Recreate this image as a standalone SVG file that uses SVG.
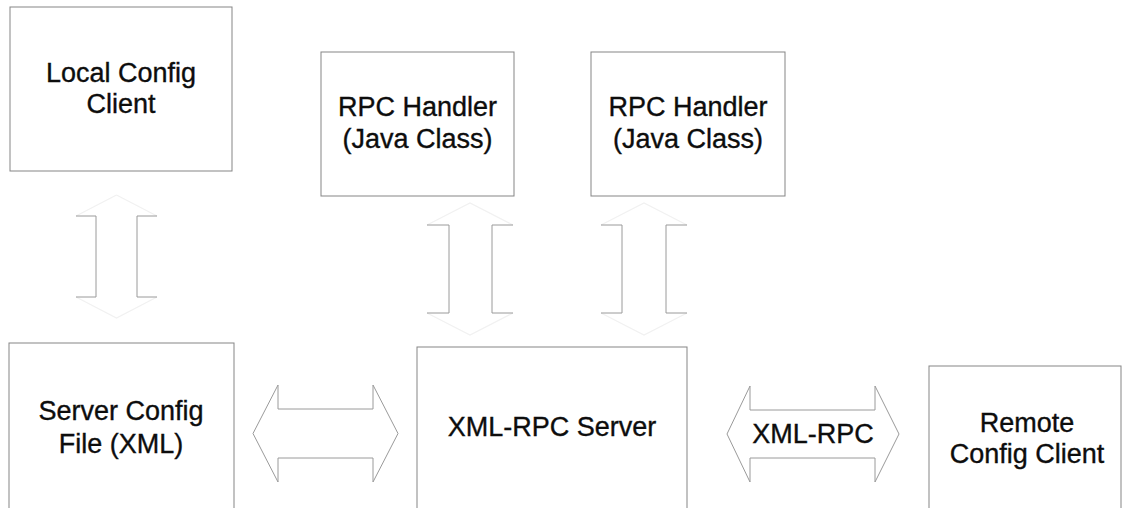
<svg xmlns="http://www.w3.org/2000/svg" width="1123" height="508" viewBox="0 0 1123 508">
<style>
.box{fill:#fff;stroke:#858585;stroke-width:1}
.t{font-family:"Liberation Sans",Arial,sans-serif;font-size:27px;fill:#0d0d0d;stroke:#0d0d0d;stroke-width:0.35;text-anchor:middle}
.arr{fill:#fff;stroke:#9a9a9a;stroke-width:1}
.faint{fill:none;stroke:#f1f1f1;stroke-width:1.2}
.brk{fill:none;stroke:#9a9a9a;stroke-width:1}
</style>
<rect width="1123" height="508" fill="#fff"/>
<g id="connectors">
  <g id="arrow-local-server">
    <path class="faint" d="M116.5,195 L157,216 M116.5,195 L76,216 M76,297 L116.5,318 L157,297"/>
    <polyline class="brk" points="76,216 96,216 96,297 76,297"/>
    <polyline class="brk" points="157,216 137,216 137,297 157,297"/>
  </g>
  <g id="arrow-handler1-server">
    <path class="faint" d="M427,225 L470,203 L513,225 M427,313 L470,335 L513,313"/>
    <polyline class="brk" points="427,225 449,225 449,313 427,313"/>
    <polyline class="brk" points="513,225 492,225 492,313 513,313"/>
  </g>
  <g id="arrow-handler2-server">
    <path class="faint" d="M601,225 L644,203 L687,225 M601,313 L644,335 L687,313"/>
    <polyline class="brk" points="601,225 622,225 622,313 601,313"/>
    <polyline class="brk" points="687,225 666,225 666,313 687,313"/>
  </g>
  <g id="arrow-file-server">
    <polygon class="arr" points="253,433.5 278,385 278,409 373,409 373,385 398,433.5 373,482 373,458 278,458 278,482"/>
  </g>
  <g id="arrow-server-remote">
    <polygon class="arr" points="727,434 750,386 750,410 875,410 875,386 899,434 875,482 875,458 750,458 750,482"/>
    <text class="t" x="813" y="443">XML-RPC</text>
  </g>
</g>
<g id="local-config-client">
  <rect class="box" x="10" y="7" width="222" height="164"/>
  <text class="t" x="121" y="82">Local Config</text>
  <text class="t" x="121" y="113">Client</text>
</g>
<g id="rpc-handler-1">
  <rect class="box" x="321" y="52" width="193" height="144"/>
  <text class="t" x="417.5" y="116">RPC Handler</text>
  <text class="t" x="417.5" y="148">(Java Class)</text>
</g>
<g id="rpc-handler-2">
  <rect class="box" x="591" y="52" width="194" height="144"/>
  <text class="t" x="688" y="116">RPC Handler</text>
  <text class="t" x="688" y="148">(Java Class)</text>
</g>
<g id="server-config-file">
  <rect class="box" x="9" y="343" width="225" height="180"/>
  <text class="t" x="121" y="420">Server Config</text>
  <text class="t" x="121" y="453">File (XML)</text>
</g>
<g id="xml-rpc-server">
  <rect class="box" x="417" y="347" width="270" height="180"/>
  <text class="t" x="552" y="436">XML-RPC Server</text>
</g>
<g id="remote-config-client">
  <rect class="box" x="929" y="366" width="192" height="160"/>
  <text class="t" x="1027" y="432">Remote</text>
  <text class="t" x="1027" y="463">Config Client</text>
</g>
</svg>
